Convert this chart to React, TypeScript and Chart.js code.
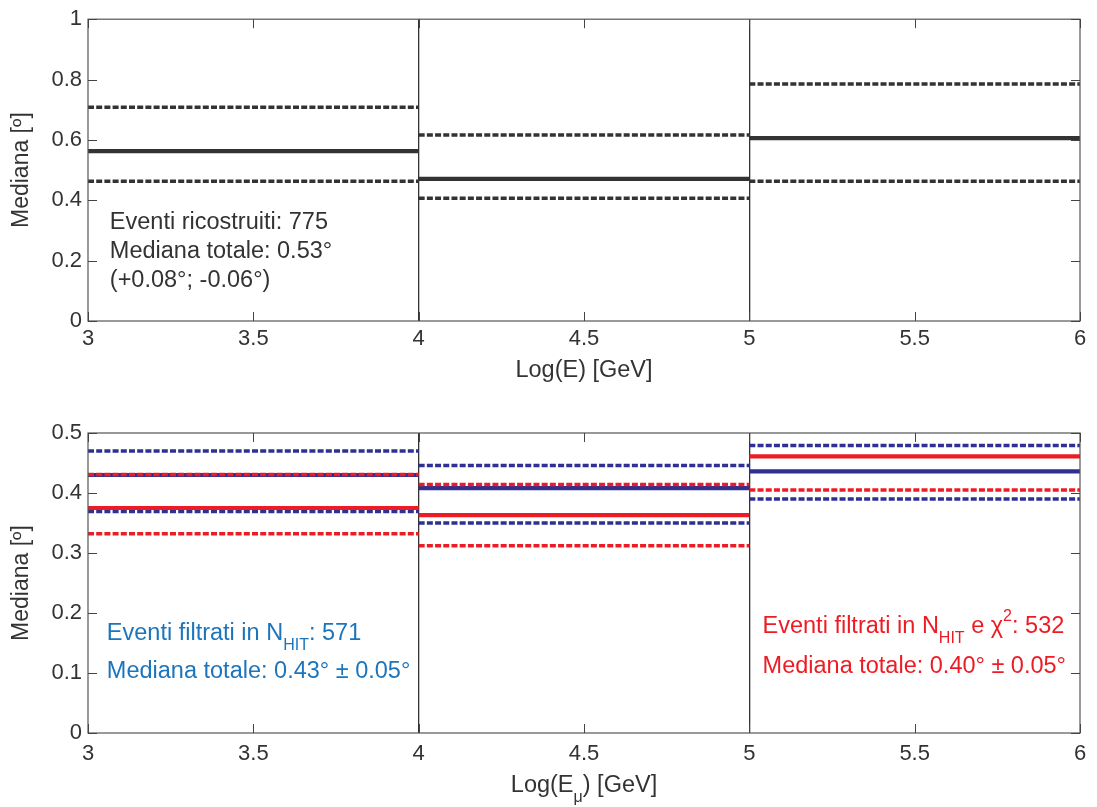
import React, { useEffect, useRef } from 'react';
import { Chart, registerables } from 'chart.js';
Chart.register(...registerables);

// ---- data ----
const binEdges = [3, 4, 5, 6];
const xTickValues = [3, 3.5, 4, 4.5, 5, 5.5, 6];
const topYTickValues = [0, 0.2, 0.4, 0.6, 0.8, 1];
const bottomYTickValues = [0, 0.1, 0.2, 0.3, 0.4, 0.5];

// top panel: reconstructed events (median and band)
const recoMedian = [0.563, 0.471, 0.606];
const recoUpper = [0.708, 0.616, 0.785];
const recoLower = [0.463, 0.407, 0.463];

// bottom panel: N_HIT filter (blue)
const nhitMedian = [0.43, 0.408, 0.436];
const nhitUpper = [0.47, 0.446, 0.479];
const nhitLower = [0.369, 0.35, 0.39];

// bottom panel: N_HIT + chi2 filter (red)
const chiMedian = [0.375, 0.363, 0.461];
const chiUpper = [0.431, 0.414, null];
const chiLower = [0.332, 0.312, 0.405];

const FONT = "'Liberation Sans', Arial, Helvetica, sans-serif";
const DARK = '#333333';
const BLUE = '#2e3192';
const RED = '#ed1c24';
const BLUE_TEXT = '#1c75bc';
const DASH = [6, 2.2];

type Part = { t: string; sub?: boolean; sup?: boolean };

function steps(vals: (number | null)[]) {
  const pts: { x: number; y: number | null }[] = [];
  vals.forEach((v, i) => {
    pts.push({ x: binEdges[i], y: v }, { x: binEdges[i + 1], y: v });
    if (i < vals.length - 1) pts.push({ x: binEdges[i + 1], y: null });
  });
  return pts;
}

function lineDs(vals: (number | null)[], color: string, dashed: boolean, order: number) {
  return {
    data: steps(vals),
    borderColor: color,
    borderWidth: dashed ? 3.5 : 4.2,
    borderDash: dashed ? DASH : [],
    pointRadius: 0,
    fill: false,
    spanGaps: false,
    tension: 0,
    order,
  };
}

function drawRich(ctx: CanvasRenderingContext2D, x: number, y: number, parts: Part[], size: number, color: string, align: 'left' | 'center') {
  const small = Math.round(size * 0.66);
  let total = 0;
  parts.forEach((p) => {
    ctx.font = `${p.sub || p.sup ? small : size}px ${FONT}`;
    total += ctx.measureText(p.t).width;
  });
  let cx = align === 'center' ? x - total / 2 : x;
  ctx.fillStyle = color;
  ctx.textAlign = 'left';
  ctx.textBaseline = 'alphabetic';
  parts.forEach((p) => {
    ctx.font = `${p.sub || p.sup ? small : size}px ${FONT}`;
    const dy = p.sub ? size * 0.42 : p.sup ? -size * 0.5 : 0;
    ctx.fillText(p.t, cx, y + dy);
    cx += ctx.measureText(p.t).width;
  });
}

const decorPlugin = {
  id: 'decor',
  afterDraw(chart: any, _args: any, opts: any) {
    const { ctx, chartArea: a, scales } = chart;
    ctx.save();
    // frame
    ctx.strokeStyle = '#555';
    ctx.lineWidth = 1.2;
    ctx.strokeRect(a.left, a.top, a.right - a.left, a.bottom - a.top);
    // inward ticks
    ctx.beginPath();
    scales.x.ticks.forEach((t: any) => {
      const px = Math.round(scales.x.getPixelForValue(t.value)) + 0.5;
      ctx.moveTo(px, a.top);
      ctx.lineTo(px, a.top + 9);
      ctx.moveTo(px, a.bottom);
      ctx.lineTo(px, a.bottom - 9);
    });
    scales.y.ticks.forEach((t: any) => {
      const py = Math.round(scales.y.getPixelForValue(t.value)) + 0.5;
      ctx.moveTo(a.left, py);
      ctx.lineTo(a.left + 9, py);
      ctx.moveTo(a.right, py);
      ctx.lineTo(a.right - 9, py);
    });
    ctx.strokeStyle = '#444';
    ctx.lineWidth = 1;
    ctx.stroke();

    // y title
    ctx.save();
    ctx.translate(22, (a.top + a.bottom) / 2);
    ctx.rotate(-Math.PI / 2);
    ctx.font = `23px ${FONT}`;
    ctx.fillStyle = DARK;
    ctx.textAlign = 'center';
    ctx.textBaseline = 'middle';
    ctx.fillText(opts.yTitle, 0, 0);
    ctx.restore();

    // x title
    drawRich(ctx, (a.left + a.right) / 2, a.bottom + opts.xTitleOffset, opts.xTitle, 23.5, DARK, 'center');

    // annotations
    (opts.texts || []).forEach((tx: any) => {
      const px = scales.x.getPixelForValue(tx.x);
      const py = scales.y.getPixelForValue(tx.y);
      drawRich(ctx, px, py, tx.parts, 23.5, tx.color, 'left');
    });
    ctx.restore();
  },
};

function makeConfig(datasets: any[], yTicks: number[], yMax: number, padTop: number, plotH: number, H: number, decor: any, xPad: number) {
  return {
    type: 'line',
    data: { datasets },
    plugins: [decorPlugin],
    options: {
      animation: false,
      responsive: false,
      layout: { padding: { top: padTop, right: 17, left: 0, bottom: 0 } },
      plugins: { legend: { display: false }, tooltip: { enabled: false }, decor },
      scales: {
        x: {
          type: 'linear',
          min: 3,
          max: 6,
          afterBuildTicks: (s: any) => { s.ticks = xTickValues.map((v) => ({ value: v })); },
          afterFit: (s: any) => { s.height = H - padTop - plotH; },
          ticks: { color: DARK, font: { family: FONT, size: 22 }, padding: xPad, maxRotation: 0, callback: (v: any) => String(v) },
          grid: {
            drawTicks: false,
            lineWidth: 1.3,
            color: (c: any) => (c.tick && (c.tick.value === 4 || c.tick.value === 5) ? DARK : 'rgba(0,0,0,0)'),
          },
          border: { display: false },
        },
        y: {
          type: 'linear',
          min: 0,
          max: yMax,
          afterBuildTicks: (s: any) => { s.ticks = yTicks.map((v) => ({ value: v })); },
          afterFit: (s: any) => { s.width = 88; },
          ticks: { color: DARK, font: { family: FONT, size: 22 }, padding: 6, callback: (v: any) => String(v) },
          grid: { display: false, drawTicks: false },
          border: { display: false },
        },
      },
    },
  };
}

function ChartCanvas({ config, width, height, top }: { config: any; width: number; height: number; top: number }) {
  const ref = useRef<HTMLCanvasElement | null>(null);
  useEffect(() => {
    if (!ref.current) return;
    const chart = new Chart(ref.current, config);
    return () => chart.destroy();
  }, [config]);
  return (
    <canvas
      ref={ref}
      width={width}
      height={height}
      style={{ position: 'absolute', left: 0, top, width, height, display: 'block' }}
    />
  );
}

const topConfig = makeConfig(
  [
    lineDs(recoUpper, DARK, true, 1),
    lineDs(recoLower, DARK, true, 1),
    lineDs(recoMedian, DARK, false, 0),
  ],
  topYTickValues,
  1,
  17,
  304,
  400,
  {
    yTitle: 'Mediana [º]',
    xTitle: [{ t: 'Log(E) [GeV]' }],
    xTitleOffset: 56,
    texts: [
      { x: 3.066, y: 0.305, color: DARK, parts: [{ t: 'Eventi ricostruiti: 775' }] },
      { x: 3.066, y: 0.21, color: DARK, parts: [{ t: 'Mediana totale: 0.53°' }] },
      { x: 3.066, y: 0.113, color: DARK, parts: [{ t: '(+0.08°; -0.06°)' }] },
    ],
  },
  5
);

const bottomConfig = makeConfig(
  [
    lineDs(nhitUpper, BLUE, true, 3),
    lineDs(nhitLower, BLUE, true, 3),
    lineDs(nhitMedian, BLUE, false, 2),
    lineDs(chiMedian, RED, false, 1),
    lineDs(chiUpper, RED, true, 0),
    lineDs(chiLower, RED, true, 0),
  ],
  bottomYTickValues,
  0.5,
  33,
  300,
  407,
  {
    yTitle: 'Mediana [º]',
    xTitle: [{ t: 'Log(E' }, { t: 'μ', sub: true }, { t: ') [GeV]' }],
    xTitleOffset: 59,
    texts: [
      { x: 3.057, y: 0.155, color: BLUE_TEXT, parts: [{ t: 'Eventi filtrati in N' }, { t: 'HIT', sub: true }, { t: ': 571' }] },
      { x: 3.057, y: 0.092, color: BLUE_TEXT, parts: [{ t: 'Mediana totale: 0.43° ± 0.05°' }] },
      { x: 5.04, y: 0.167, color: RED, parts: [{ t: 'Eventi filtrati in N' }, { t: 'HIT', sub: true }, { t: ' e χ' }, { t: '2', sup: true }, { t: ': 532' }] },
      { x: 5.04, y: 0.1, color: RED, parts: [{ t: 'Mediana totale: 0.40° ± 0.05°' }] },
    ],
  },
  8
);

export default function App() {
  return (
    <div style={{ position: 'fixed', left: 0, top: 0, width: 1097, height: 807, background: '#fff' }}>
      <ChartCanvas config={topConfig} width={1097} height={400} top={0} />
      <ChartCanvas config={bottomConfig} width={1097} height={407} top={400} />
    </div>
  );
}
